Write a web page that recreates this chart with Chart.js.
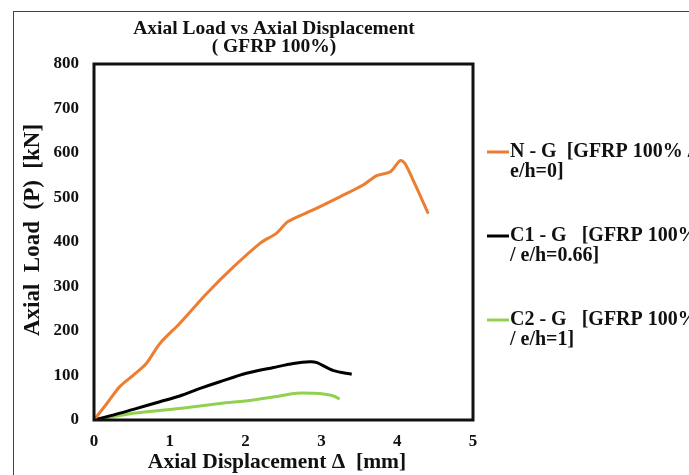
<!DOCTYPE html>
<html>
<head>
<meta charset="utf-8">
<script src="https://cdn.jsdelivr.net/npm/chart.js@4/dist/chart.umd.min.js"></script>
<style>
html,body{margin:0;padding:0;background:#fff;}
canvas{display:block;}
</style>
</head>
<body>
<canvas id="c" width="689" height="475"></canvas>
<script>
// ---- Data ----
const titleLines = ["Axial Load vs Axial Displacement", "( GFRP 100%)"];
const xAxisTitle = "Axial Displacement \u0394  [mm]";
const yAxisTitle = "Axial  Load  (P)  [kN]";

const seriesNames = [
  "N - G  [GFRP 100% / e/h=0]",
  "C1 - G   [GFRP 100% / e/h=0.66]",
  "C2 - G   [GFRP 100% / e/h=1]"
];
const legendLines = [
  ["N - G  [GFRP 100% /", "e/h=0]"],
  ["C1 - G   [GFRP 100%", "/ e/h=0.66]"],
  ["C2 - G   [GFRP 100%", "/ e/h=1]"]
];
const seriesColors = ["#ED7D31", "#000000", "#92D050"];

const ngDisp = [0, 0.17, 0.34, 0.52, 0.69, 0.87, 1.13, 1.49, 1.84, 2.19, 2.41, 2.56, 2.89, 3.25, 3.55, 3.73, 3.91, 4.04, 4.10, 4.21, 4.41];
const ngLoad = [0, 37, 75, 101, 127, 172, 217, 285, 344, 397, 420, 446, 472, 502, 528, 549, 558, 583, 577, 539, 464];

const c1Disp = [0, 0.25, 0.52, 0.87, 1.13, 1.40, 1.66, 2.01, 2.37, 2.63, 2.85, 2.94, 3.16, 3.40];
const c1Load = [0, 11, 24, 41, 54, 71, 86, 105, 118, 127, 131, 129, 111, 103];

const c2Disp = [0, 0.52, 1.13, 1.66, 2.10, 2.45, 2.67, 2.89, 3.05, 3.16, 3.24];
const c2Load = [0, 15, 26, 37, 45, 54, 60, 60, 58, 54, 47];

const xTicks = [0, 1, 2, 3, 4, 5];
const yTicks = [0, 100, 200, 300, 400, 500, 600, 700, 800];

// ---- Build ----
const serif = '"Liberation Serif", "Times New Roman", serif';
function pts(xs, ys){ return xs.map((x,i)=>({x:x, y:ys[i]})); }
const allDisp = [ngDisp, c1Disp, c2Disp];
const allLoad = [ngLoad, c1Load, c2Load];

const datasets = seriesNames.map((name, i) => ({
  label: name,
  data: pts(allDisp[i], allLoad[i]),
  borderColor: seriesColors[i],
  backgroundColor: seriesColors[i],
  borderWidth: 3,
  pointRadius: 0,
  tension: 0.3,
  fill: false
}));

const decor = {
  id: 'decor',
  beforeDraw(chart){
    const ctx = chart.ctx;
    ctx.save();
    ctx.fillStyle = '#fff';
    ctx.fillRect(0,0,chart.width,chart.height);
    ctx.strokeStyle = '#444';
    ctx.lineWidth = 1;
    ctx.strokeRect(13.5, 11.5, 700, 500);
    ctx.restore();
  },
  afterDatasetsDraw(chart){
    const ctx = chart.ctx;
    const a = chart.chartArea;
    ctx.save();
    ctx.strokeStyle = '#111';
    ctx.lineWidth = 3;
    ctx.strokeRect(a.left, a.top, a.right - a.left, a.bottom - a.top);
    ctx.fillStyle = '#111';
    ctx.font = 'bold 19.5px ' + serif;
    ctx.textAlign = 'center';
    ctx.textBaseline = 'middle';
    ctx.fillText(titleLines[0], 274, 29);
    ctx.fillText(titleLines[1], 274, 47);
    ctx.font = 'bold 21.5px ' + serif;
    ctx.fillText(xAxisTitle, 277, 462);
    ctx.save();
    ctx.translate(33, 230);
    ctx.rotate(-Math.PI/2);
    ctx.font = 'bold 23px ' + serif;
    ctx.fillText(yAxisTitle, 0, 0);
    ctx.restore();
    const rowY = [152, 236, 320];
    ctx.font = 'bold 20px ' + serif;
    ctx.textAlign = 'left';
    chart.data.datasets.forEach((ds, i) => {
      const y = rowY[i];
      ctx.strokeStyle = ds.borderColor;
      ctx.lineWidth = 3;
      ctx.beginPath();
      ctx.moveTo(487, y);
      ctx.lineTo(509, y);
      ctx.stroke();
      ctx.fillStyle = '#111';
      legendLines[i].forEach((t, j) => ctx.fillText(t, 510, y + j*20));
    });
    ctx.restore();
  }
};

new Chart(document.getElementById('c'), {
  type: 'line',
  data: { datasets },
  options: {
    responsive: false,
    animation: false,
    devicePixelRatio: 1,
    layout: { padding: { left: 0, top: 64, right: 216, bottom: 0 } },
    plugins: { legend: { display: false }, title: { display: false }, tooltip: { enabled: false } },
    scales: {
      x: {
        type: 'linear', min: 0, max: 5,
        afterFit(s){ s.height = 55; },
        afterBuildTicks(s){ s.ticks = xTicks.map(v => ({value: v})); },
        grid: { display: false, drawTicks: false },
        border: { display: false },
        ticks: { padding: 11, color: '#111', font: { family: serif, size: 17, weight: 'bold' } }
      },
      y: {
        type: 'linear', min: 0, max: 800,
        afterFit(s){ s.width = 94; },
        afterBuildTicks(s){ s.ticks = yTicks.map(v => ({value: v})); },
        grid: { display: false, drawTicks: false },
        border: { display: false },
        ticks: { padding: 15, color: '#111', font: { family: serif, size: 17, weight: 'bold' } }
      }
    }
  },
  plugins: [decor]
});
</script>
</body>
</html>
